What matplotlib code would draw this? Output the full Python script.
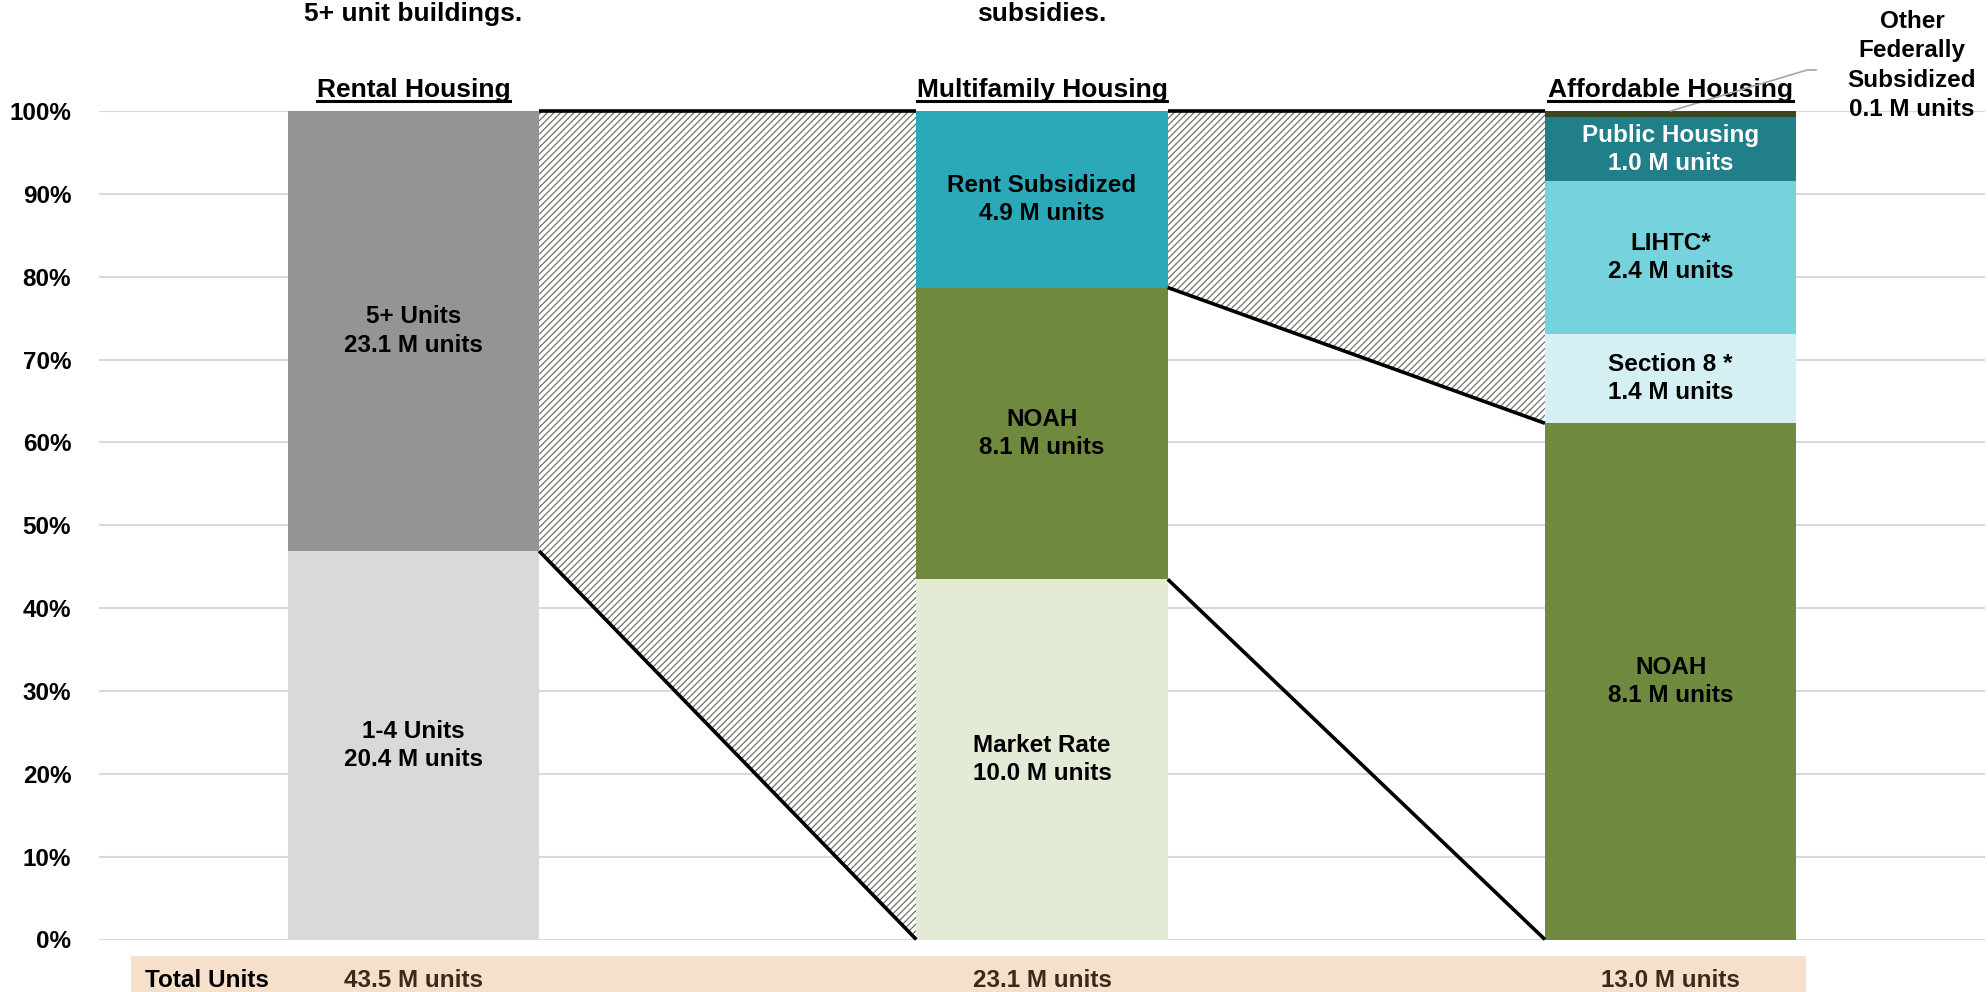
import matplotlib
matplotlib.use("Agg")
import matplotlib.pyplot as plt
from matplotlib import font_manager
from matplotlib.patches import Polygon, Rectangle
from matplotlib.lines import Line2D
from matplotlib.transforms import blended_transform_factory, IdentityTransform
import numpy as np


def pick_font(candidates):
    for name in candidates:
        try:
            font_manager.findfont(font_manager.FontProperties(family=name),
                                  fallback_to_default=False)
            return name
        except Exception:
            continue
    return "DejaVu Sans"


FONT = pick_font(["Liberation Sans Narrow", "Arial Narrow", "Liberation Sans"])
NARROW = FONT != "Liberation Sans"
plt.rcParams["font.family"] = [FONT, "DejaVu Sans"]
plt.rcParams["font.weight"] = "bold"
plt.rcParams["hatch.linewidth"] = 0.9

# ---- data -------------------------------------------------------------
groups = ["Rental Housing", "Multifamily Housing", "Affordable Housing"]
group_totals = [43.5, 23.1, 13.0]
group_notes = ["5+ unit buildings.", "subsidies.", ""]

rental_names = ["1-4 Units", "5+ Units"]
rental_values = [20.4, 23.1]
rental_colors = ["#D9D9D9", "#949494"]

multifamily_names = ["Market Rate", "NOAH", "Rent Subsidized"]
multifamily_values = [10.0, 8.1, 4.9]
multifamily_colors = ["#E3EBD6", "#6F8A3F", "#2BA9B8"]

affordable_names = ["NOAH", "Section 8 *", "LIHTC*", "Public Housing",
                    "Other\nFederally\nSubsidized"]
affordable_values = [8.1, 1.4, 2.4, 1.0, 0.1]
affordable_colors = ["#6F8A3F", "#D4F0F3", "#76D3DD", "#217F89", "#3B4720"]
affordable_text = ["black", "black", "black", "white", None]

y_ticks = [0.0, 0.1, 0.2, 0.3, 0.4, 0.5, 0.6, 0.7, 0.8, 0.9, 1.0]

# ---- sizes --------------------------------------------------------------
k = 1.15 if NARROW else 1.0
FS_LABEL = 17.5 * k
FS_TICK = 17.5 * k
FS_HEAD = 19 * k

# ---- figure -----------------------------------------------------------
W, H = 1988, 992
fig = plt.figure(figsize=(W / 100, H / 100), dpi=100)
ax = fig.add_axes([99 / W, 1 - 939.5 / H, (1985 - 99) / W, (939.5 - 111) / H])
ax.set_xlim(-0.5, 2.5)
ax.set_ylim(0, 1)
for s in ax.spines.values():
    s.set_visible(False)
ax.set_xticks([])
ax.set_yticks(y_ticks)
ax.set_yticklabels([f"{round(v * 100)}%" for v in y_ticks])
ax.tick_params(axis="y", length=0, pad=20, labelsize=FS_TICK)
ax.yaxis.grid(True, color="#D9D9D9", linewidth=1.5)
ax.set_axisbelow(True)

BAR_W = 0.4
stacks = [
    (rental_names, rental_values, rental_colors, ["black", "black"]),
    (multifamily_names, multifamily_values, multifamily_colors,
     ["black", "black", "black"]),
    (affordable_names, affordable_values, affordable_colors, affordable_text),
]

bounds = []
for i, (names, vals, cols, tcols) in enumerate(stacks):
    vals = np.asarray(vals, dtype=float)
    frac = vals / vals.sum()
    bottoms = np.concatenate([[0], np.cumsum(frac)[:-1]])
    bounds.append(np.concatenate([[0], np.cumsum(frac)]))
    ax.bar([i] * len(frac), frac, bottom=bottoms, width=BAR_W, color=cols,
           linewidth=0, zorder=2)
    for name, v, f, b, tc in zip(names, vals, frac, bottoms, tcols):
        if tc is None:
            continue
        ax.text(i, b + f / 2, f"{name}\n{v:.1f} M units", ha="center",
                va="center", fontsize=FS_LABEL, color=tc, linespacing=1.3,
                zorder=4)

# ---- connectors between stacks ---------------------------------------
HATCH_C = "#727266"


def connector(i, left_lo, right_lo):
    xl, xr = i + BAR_W / 2, i + 1 - BAR_W / 2
    poly = Polygon([(xl, 1), (xr, 1), (xr, right_lo), (xl, left_lo)],
                   closed=True, facecolor="white", edgecolor=HATCH_C,
                   linewidth=0, hatch="/////", zorder=1.5)
    ax.add_patch(poly)
    ax.plot([xl, xr], [1, 1], color="black", lw=2.6, zorder=3,
            clip_on=False, solid_capstyle="butt")
    ax.plot([xl, xr], [left_lo, right_lo], color="black", lw=2.6, zorder=3,
            clip_on=False, solid_capstyle="butt")


# 5+ units -> all multifamily
connector(0, bounds[0][1], 0.0)
# rent subsidized -> subsidized affordable
connector(1, bounds[1][2], bounds[2][1])
# NOAH -> NOAH
ax.plot([1 + BAR_W / 2, 2 - BAR_W / 2], [bounds[1][1], 0.0], color="black",
        lw=2.6, zorder=3, clip_on=False, solid_capstyle="butt")

# ---- headings ----------------------------------------------------------
bt = blended_transform_factory(ax.transData, fig.transFigure)
headers = []
for i, g in enumerate(groups):
    headers.append(ax.text(i, 1 - 97 / H, g, ha="center", va="baseline",
                           fontsize=FS_HEAD, transform=bt))
    if group_notes[i]:
        ax.text(i, 1 - 21 / H, group_notes[i], ha="center", va="baseline",
                fontsize=FS_HEAD, transform=bt)

# label for the thin top slice of affordable housing
other_val = affordable_values[-1]
fig.text(1912 / W, 1 - 10 / H,
         f"{affordable_names[-1]}\n{other_val:.1f} M units", ha="center",
         va="top", fontsize=FS_LABEL, linespacing=1.36)
x0, y0 = ax.transData.transform((2, 1.0))
leader = Line2D([x0, 1807, 1816], [y0, H - 70, H - 70],
                transform=IdentityTransform(), color="#A6A6A6", lw=1.2)
fig.add_artist(leader)

# ---- totals band -------------------------------------------------------
fig.add_artist(Rectangle((131 / W, 0), (1806 - 131) / W, (992 - 956) / H,
                         transform=fig.transFigure, facecolor="#F6E0CC",
                         edgecolor="none", zorder=0))
fig.text(145 / W, 1 - 987 / H, "Total Units", ha="left", va="baseline",
         fontsize=FS_LABEL, color="black")
for i, t in enumerate(group_totals):
    ax.text(i, 1 - 987 / H, f"{t:.1f} M units", ha="center", va="baseline",
            fontsize=FS_LABEL, color="#3A2A1A", transform=bt)

# ---- underline the headings -------------------------------------------
fig.canvas.draw()
renderer = fig.canvas.get_renderer()
for t in headers:
    bb = t.get_window_extent(renderer)
    yb = H - 97 - 4
    fig.add_artist(Line2D([bb.x0, bb.x1], [yb, yb],
                          transform=IdentityTransform(), color="black",
                          lw=2.2))

fig.savefig("out.png", dpi=100)
